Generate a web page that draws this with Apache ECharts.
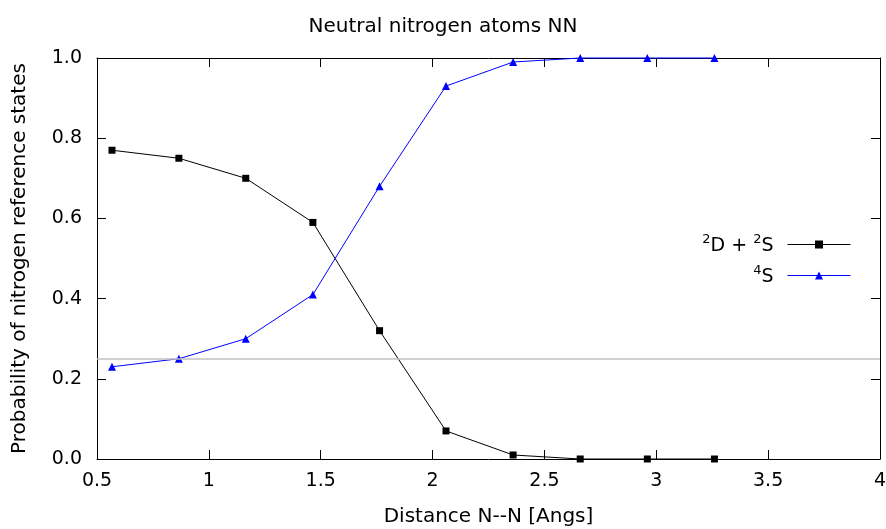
<!DOCTYPE html>
<html><head><meta charset="utf-8">
<script src="https://cdn.jsdelivr.net/npm/echarts@6/dist/echarts.min.js"></script>
<style>html,body{margin:0;padding:0;background:#fff}#c{width:886px;height:529px}</style>
</head><body><div id="c"></div>
<script>
const distances = [0.567, 0.866, 1.165, 1.465, 1.763, 2.06, 2.36, 2.66, 2.96, 3.26];
const probDS = [0.77, 0.75, 0.70, 0.59, 0.32, 0.07, 0.01, 0.00, 0.00, 0.00];
const probS4 = [0.23, 0.25, 0.30, 0.41, 0.68, 0.93, 0.99, 1.00, 1.00, 1.00];
const referenceLevel = 0.25;
const seriesNames = ['2D + 2S', '4S'];
const legendLabels = {'2D + 2S': '{sup|2}{n|D + }{sup|2}{n|S}{sp|}', '4S': '{sup|4}{n|S}{sp|}'};

const font = 'DejaVu Sans';
const chart = echarts.init(document.getElementById('c'));
const tickStyle = {inside: true, length: 9, lineStyle: {color: '#000'}};
const lineAxis = {onZero: false, lineStyle: {color: '#000', width: 1}};
chart.setOption({
  animation: false,
  title: {text: 'Neutral nitrogen atoms NN', left: 'center', top: 12,
    textStyle: {fontFamily: font, fontSize: 20, fontWeight: 'normal', color: '#000'}},
  grid: {left: 97, right: 6, top: 58, bottom: 70, outerBoundsMode: 'none', containLabel: false},
  legend: {
    right: 35, top: 233, orient: 'vertical', align: 'right', padding: 0,
    itemWidth: 63, itemHeight: 10, itemGap: 8,
    lineStyle: {width: 1},
    data: seriesNames,
    formatter: n => legendLabels[n],
    textStyle: {fontFamily: font, fontSize: 19, color: '#000',
      rich: {n: {fontFamily: font, fontSize: 19, color: '#000', verticalAlign: 'bottom', lineHeight: 23},
             sup: {fontFamily: font, fontSize: 13, color: '#000', verticalAlign: 'top', lineHeight: 23},
             sp: {width: 9, lineHeight: 23}}}
  },
  xAxis: [
    {type: 'value', min: 0.5, max: 4, interval: 0.5, name: 'Distance N--N [Angs]',
     nameLocation: 'middle', nameGap: 48,
     nameTextStyle: {fontFamily: font, fontSize: 20, color: '#000'},
     axisLine: lineAxis, axisTick: tickStyle, splitLine: {show: false},
     axisLabel: {fontFamily: font, fontSize: 19, color: '#000', margin: 13}},
    {type: 'value', position: 'top', min: 0.5, max: 4, interval: 0.5,
     axisLine: lineAxis, axisTick: tickStyle, splitLine: {show: false}, axisLabel: {show: false}}
  ],
  yAxis: [
    {type: 'value', min: 0, max: 1, interval: 0.2, name: 'Probability of nitrogen reference states',
     nameLocation: 'middle', nameGap: 67,
     nameTextStyle: {fontFamily: font, fontSize: 20, color: '#000'},
     axisLine: lineAxis, axisTick: tickStyle, splitLine: {show: false},
     axisLabel: {fontFamily: font, fontSize: 19, color: '#000', margin: 15, formatter: v => v.toFixed(1)}},
    {type: 'value', position: 'right', min: 0, max: 1, interval: 0.2,
     axisLine: lineAxis, axisTick: tickStyle, splitLine: {show: false}, axisLabel: {show: false}}
  ],
  series: [
    {name: seriesNames[0], type: 'line', data: distances.map((d, i) => [d, probDS[i]]), clip: false,
     symbol: 'rect', symbolSize: 7, itemStyle: {color: '#000'}, lineStyle: {color: '#000', width: 1},
     markLine: {silent: true, symbol: 'none', label: {show: false},
       lineStyle: {color: '#c0c0c0', type: 'solid', width: 1.5}, data: [{yAxis: referenceLevel}]}},
    {name: seriesNames[1], type: 'line', data: distances.map((d, i) => [d, probS4[i]]), clip: false,
     symbol: 'triangle', symbolSize: 8, itemStyle: {color: '#0000ff'}, lineStyle: {color: '#0000ff', width: 1}}
  ]
});
</script></body></html>
